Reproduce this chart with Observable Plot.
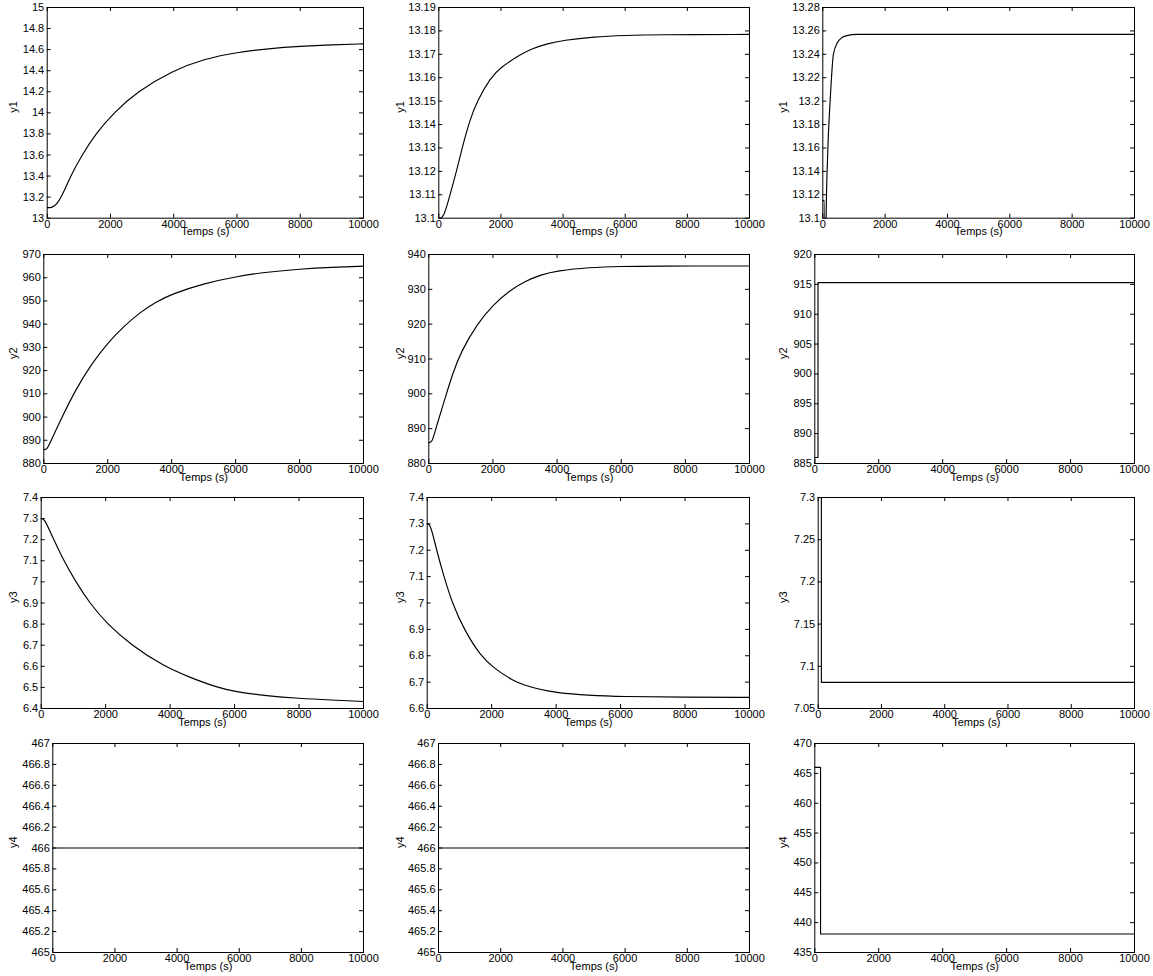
<!DOCTYPE html>
<html>
<head>
<meta charset="utf-8">
<script src="https://cdn.jsdelivr.net/npm/d3@7"></script>
<script src="https://cdn.jsdelivr.net/npm/@observablehq/plot@0.6"></script>
<style>
  html, body { margin: 0; padding: 0; background: white; }
  #fig { position: relative; width: 1153px; height: 976px; background: white; overflow: hidden; }
  #fig svg { position: absolute; }
</style>
</head>
<body>
<div id="fig"></div>
<script>
// ---------- data (time in s, value) ----------
const xTicks = [0, 2000, 4000, 6000, 8000, 10000];
const xLabel = "Temps (s)";

const y1_a = [[0,13.1],[150,13.1],[300,13.13],[500,13.23],[737,13.4],[1100,13.6],[1530,13.8],[2100,14.0],[2840,14.2],[3950,14.4],[5000,14.515],[6000,14.575],[7000,14.61],[8000,14.632],[9000,14.646],[10000,14.655]];
const y1_b = [[0,13.1],[150,13.1],[320,13.108],[570,13.12],[750,13.13],[1000,13.142],[1234,13.15],[1660,13.16],[2000,13.1645],[2630,13.17],[3000,13.1724],[3500,13.1746],[4000,13.176],[5000,13.1775],[6000,13.1781],[7000,13.1784],[10000,13.1785]];
const y1_c = [[0,13.115],[50,13.115],[55,12.9],[95,12.9],[107,13.1],[150,13.15],[235,13.2],[340,13.24],[470,13.25],[600,13.254],[770,13.256],[1100,13.257],[10000,13.257]];

const y2_a = [[0,886],[100,886],[200,889],[500,898],[1000,912],[1500,923],[2000,932],[2500,939],[3000,945],[3500,949.5],[4000,953],[5000,957.5],[6000,960.5],[7000,962.5],[8000,963.7],[9000,964.5],[10000,965]];
const y2_b = [[0,886],[100,886],[200,889.5],[500,898.5],[750,906],[1000,912],[1500,920],[2000,925.5],[2500,929.5],[3000,932.3],[3500,934.2],[4000,935.3],[5000,936.3],[6000,936.6],[7000,936.7],[10000,936.7]];
const y2_c = [[0,886],[100,886],[100,915.3],[10000,915.3]];

const y3_a = [[0,7.3],[100,7.3],[300,7.23],[700,7.1],[1075,7.0],[1500,6.9],[2050,6.8],[2800,6.7],[3800,6.6],[4600,6.548],[5450,6.5],[6000,6.48],[7000,6.46],[8000,6.448],[9000,6.44],[10000,6.433]];
const y3_b = [[0,7.3],[100,7.3],[290,7.2],[520,7.1],[775,7.0],[1140,6.9],[1650,6.8],[2100,6.75],[2640,6.707],[3000,6.689],[3500,6.672],[4000,6.66],[5000,6.65],[6000,6.645],[8000,6.643],[10000,6.642]];
const y3_c = [[0,7.3],[100,7.3],[100,7.081],[10000,7.081]];

const y4_a = [[0,466],[10000,466]];
const y4_b = [[0,466],[10000,466]];
const y4_c = [[0,466],[180,466],[180,438.1],[10000,438.1]];

// y tick labels per panel
const ticks_y1_a = [13,13.2,13.4,13.6,13.8,14,14.2,14.4,14.6,14.8,15];
const ticks_y1_b = [13.1,13.11,13.12,13.13,13.14,13.15,13.16,13.17,13.18,13.19];
const ticks_y1_c = [13.1,13.12,13.14,13.16,13.18,13.2,13.22,13.24,13.26,13.28];
const ticks_y2_a = [880,890,900,910,920,930,940,950,960,970];
const ticks_y2_b = [880,890,900,910,920,930,940];
const ticks_y2_c = [885,890,895,900,905,910,915,920];
const ticks_y3_a = [6.4,6.5,6.6,6.7,6.8,6.9,7,7.1,7.2,7.3,7.4];
const ticks_y3_b = [6.6,6.7,6.8,6.9,7,7.1,7.2,7.3,7.4];
const ticks_y3_c = [7.05,7.1,7.15,7.2,7.25,7.3];
const ticks_y4_a = [465,465.2,465.4,465.6,465.8,466,466.2,466.4,466.6,466.8,467];
const ticks_y4_b = [465,465.2,465.4,465.6,465.8,466,466.2,466.4,466.6,466.8,467];
const ticks_y4_c = [435,440,445,450,455,460,465,470];

const yLabels = ["y1", "y2", "y3", "y4"];

// ---------- layout ----------
const colX0 = [0, 385, 770];
const colRight = [363, 749, 1134];
const labelX = [13, 400, 783];
const rowTop = [7.3, 254, 497, 743];
const rowBottom = [218, 463, 708, 952];

const panels = [
  {row:0, col:0, data:y1_a, ticks:ticks_y1_a, left:46.7, curve:"basis"},
  {row:0, col:1, data:y1_b, ticks:ticks_y1_b, left:438.3, curve:"basis"},
  {row:0, col:2, data:y1_c, ticks:ticks_y1_c, left:822.3, curve:"monotone-x"},
  {row:1, col:0, data:y2_a, ticks:ticks_y2_a, left:43.3, curve:"basis"},
  {row:1, col:1, data:y2_b, ticks:ticks_y2_b, left:428.3, curve:"basis"},
  {row:1, col:2, data:y2_c, ticks:ticks_y2_c, left:814.3, curve:"linear"},
  {row:2, col:0, data:y3_a, ticks:ticks_y3_a, left:40.7, curve:"basis"},
  {row:2, col:1, data:y3_b, ticks:ticks_y3_b, left:426.7, curve:"basis"},
  {row:2, col:2, data:y3_c, ticks:ticks_y3_c, left:817.7, curve:"linear"},
  {row:3, col:0, data:y4_a, ticks:ticks_y4_a, left:52.3, curve:"linear"},
  {row:3, col:1, data:y4_b, ticks:ticks_y4_b, left:438, curve:"linear"},
  {row:3, col:2, data:y4_c, ticks:ticks_y4_c, left:814.3, curve:"linear"}
];

const font = "'Liberation Sans', Arial, Helvetica, sans-serif";
const fmt = d => String(+(+d).toFixed(4));
const fig = document.getElementById("fig");

for (const p of panels) {
  const left = p.left, right = colRight[p.col];
  const top = rowTop[p.row], bottom = rowBottom[p.row];
  const mL = left - colX0[p.col], mR = 12, mT = 8, mB = 28;
  const W = right - left, H = bottom - top;
  const tk = 4;
  const svg = Plot.plot({
    width: mL + W + mR,
    height: mT + H + mB,
    marginLeft: mL, marginRight: mR, marginTop: mT, marginBottom: mB,
    style: {fontFamily: font, fontSize: "11px", background: "transparent", color: "black", overflow: "visible"},
    x: {domain: [0, 10000]},
    y: {domain: [p.ticks[0], p.ticks[p.ticks.length - 1]]},
    marks: [
      Plot.line(p.data, {x: d => d[0], y: d => d[1], stroke: "black", strokeWidth: 1.15, curve: p.curve, clip: true}),
      Plot.ruleX(xTicks, {x: d => d, insetTop: H - tk, stroke: "black", strokeWidth: 1}),
      Plot.ruleX(xTicks, {x: d => d, insetBottom: H - tk, stroke: "black", strokeWidth: 1}),
      Plot.ruleY(p.ticks, {y: d => d, insetRight: W - tk, stroke: "black", strokeWidth: 1}),
      Plot.ruleY(p.ticks, {y: d => d, insetLeft: W - tk, stroke: "black", strokeWidth: 1}),
      Plot.frame({stroke: "black", strokeWidth: 1}),
      Plot.axisX(xTicks, {tickSize: 0, tickPadding: 2, tickFormat: d => String(d), label: null, fill: "black"}),
      Plot.axisY(p.ticks, {tickSize: 0, tickPadding: 3, tickFormat: fmt, label: null, fill: "black"}),
      Plot.text([xLabel], {frameAnchor: "bottom", dy: 17, text: d => d, fill: "black", fontSize: 11}),
      Plot.text([yLabels[p.row]], {frameAnchor: "left", dx: labelX[p.col] - left, rotate: -90, text: d => d, fill: "black", fontSize: 11})
    ]
  });
  svg.style.left = colX0[p.col] + "px";
  svg.style.top = (top - mT) + "px";
  fig.appendChild(svg);
}
</script>
</body>
</html>
